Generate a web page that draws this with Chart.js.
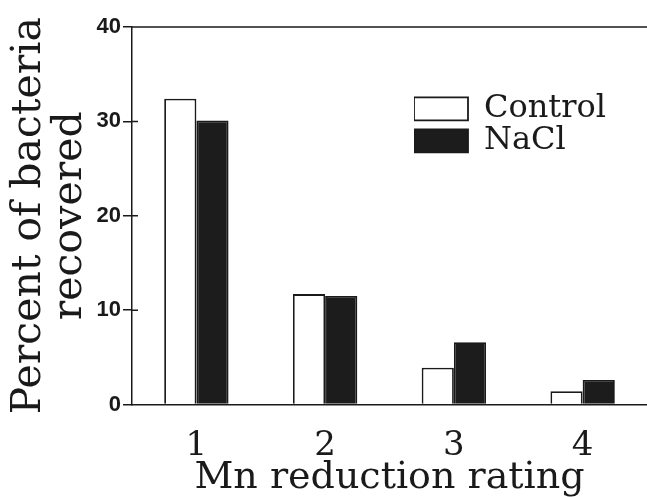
<!DOCTYPE html>
<html>
<head>
<meta charset="utf-8">
<script src="https://cdn.jsdelivr.net/npm/chart.js@4/dist/chart.umd.min.js"></script>
<style>
  html, body { margin: 0; padding: 0; background: #ffffff; }
  canvas { display: block; }
</style>
</head>
<body>
<canvas id="c" width="647" height="497"></canvas>
<script>
const categories = ['1', '2', '3', '4'];
const controlValues = [32.4, 11.7, 3.9, 1.4];
const naclValues = [30.1, 11.5, 6.6, 2.6];
const yTickValues = [0, 10, 20, 30, 40];
const seriesNames = ['Control', 'NaCl'];
const xTitle = 'Mn reduction rating';
const yTitle = ['Percent of bacteria', 'recovered'];

const ink = '#1a1a1a';

const framePlugin = {
  id: 'frame',
  afterLayout(chart) {
    const lg = chart.legend;
    if (lg) {
      lg.left = 414;
      lg.right = 414 + lg.width;
      lg.top = 92.8;
      lg.bottom = 92.8 + 200;
    }
  },
  afterDraw(chart) {
    const ctx = chart.ctx;
    const a = chart.chartArea;
    const ys = chart.scales.y;
    ctx.save();
    ctx.strokeStyle = ink;
    ctx.lineWidth = 1.5;
    ctx.beginPath();
    ctx.moveTo(a.left, a.top);
    ctx.lineTo(a.right, a.top);
    ys.ticks.forEach(t => {
      const p = ys.getPixelForValue(t.value);
      if (t.value > 0 && t.value < 40) {
        ctx.moveTo(a.left, p);
        ctx.lineTo(a.left + 6, p);
      }
    });
    ctx.stroke();
    ctx.restore();
  }
};

new Chart(document.getElementById('c'), {
  type: 'bar',
  data: {
    labels: categories,
    datasets: [
      {
        label: seriesNames[0],
        data: controlValues,
        backgroundColor: '#ffffff',
        borderColor: ink,
        borderWidth: 1.8,
        categoryPercentage: 0.5,
        barPercentage: 1.0
      },
      {
        label: seriesNames[1],
        data: naclValues,
        backgroundColor: '#1c1c1c',
        borderColor: ink,
        borderWidth: 1.8,
        categoryPercentage: 0.5,
        barPercentage: 1.0
      }
    ]
  },
  options: {
    responsive: false,
    animation: false,
    devicePixelRatio: 1,
    layout: { padding: { top: 27, left: 0, right: 0, bottom: 0 } },
    plugins: {
      tooltip: { enabled: false },
      legend: {
        position: 'chartArea',
        align: 'start',
        labels: {
          boxWidth: 54,
          boxHeight: 23,
          padding: 0,
          color: ink,
          font: { family: 'DejaVu Serif', size: 32 }
        }
      }
    },
    scales: {
      x: {
        afterFit(s) { s.height = 92.5; },
        grid: { display: true, drawOnChartArea: false, drawTicks: false },
        border: { display: true, color: ink, width: 1.5 },
        ticks: {
          color: ink,
          padding: 21,
          font: { family: 'DejaVu Serif', size: 34, lineHeight: 1.2 }
        },
        title: {
          display: true,
          text: xTitle,
          color: ink,
          padding: { top: 0, bottom: 0 },
          font: { family: 'DejaVu Serif', size: 38, lineHeight: 1 }
        }
      },
      y: {
        min: 0,
        max: 40,
        afterFit(s) { s.width = 132; },
        afterBuildTicks(s) { s.ticks = yTickValues.map(v => ({ value: v })); },
        grid: { drawOnChartArea: false, drawTicks: true, tickLength: 9, color: ink, lineWidth: 1.5 },
        border: { display: true, color: ink, width: 1.5 },
        ticks: {
          color: ink,
          padding: 2,
          font: { family: 'Liberation Sans', size: 22, weight: 'bold' }
        },
        title: {
          display: true,
          text: yTitle,
          color: ink,
          padding: { top: 8.5, bottom: 0 },
          font: { family: 'DejaVu Serif', size: 41, lineHeight: 1 }
        }
      }
    }
  },
  plugins: [framePlugin]
});
</script>
</body>
</html>
